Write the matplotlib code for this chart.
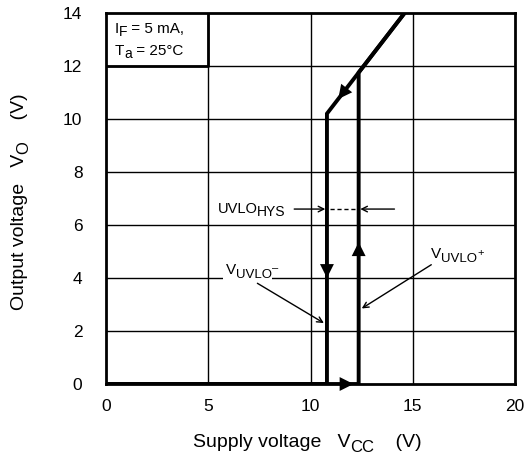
import matplotlib
matplotlib.use("Agg")
import matplotlib.pyplot as plt

plt.rcParams['font.family'] = ['Liberation Sans', 'DejaVu Sans']

# characteristic path (Vcc, Vo)
rise_x = [0, 12.35, 12.35, 14.6]
rise_y = [0, 0, 11.75, 14]
fall_x = [14.6, 10.8, 10.8, 0]
fall_y = [14, 10.2, 0, 0]

v_uvlo_minus = 10.8
v_uvlo_plus = 12.35
hys_level = 6.6

x_ticks = [0, 5, 10, 15, 20]
y_ticks = [0, 2, 4, 6, 8, 10, 12, 14]

fig = plt.figure(figsize=(5.3, 4.61), dpi=100)
ax = fig.add_axes([0.2, 0.167, 0.772, 0.805])


def chain(first, parts, rotated=False, zorder=3):
    # add text pieces after `first`, each (text, size, shift in pt, bbox)
    prev = first
    for s, fs, d, box in parts:
        if rotated:
            prev = ax.annotate(s, xy=(1, 1), xycoords=prev, xytext=(-d, 0),
                               textcoords='offset points', fontsize=fs, rotation=90,
                               ha='right', va='bottom', annotation_clip=False)
        else:
            prev = ax.annotate(s, xy=(1, 0), xycoords=prev, xytext=(0, d),
                               textcoords='offset points', fontsize=fs,
                               ha='left', va='bottom', bbox=box,
                               annotation_clip=False, zorder=zorder)
    return prev


ax.set_xlim(0, 20)
ax.set_ylim(0, 14)
ax.set_xticks(x_ticks)
ax.set_yticks(y_ticks)
ax.tick_params(axis='both', length=0, labelsize=12.5)
ax.tick_params(axis='x', pad=11)
ax.tick_params(axis='y', pad=17)
for s in ax.spines.values():
    s.set_linewidth(2)

for xv in x_ticks[1:-1]:
    ax.axvline(xv, color='black', lw=1.0, zorder=1)
for yv in y_ticks[1:-1]:
    ax.axhline(yv, color='black', lw=1.0, zorder=1)

# condition box (thicker border cell)
ax.plot([0, 5, 5], [12, 12, 14], color='black', lw=2, zorder=2)
t = ax.text(0.42, 13.25, "I", fontsize=11, va='baseline', ha='left')
chain(t, [("F", 10, -2.5, None), (" = 5 mA,", 11, 2.5, None)])
t = ax.text(0.42, 12.42, "T", fontsize=11, va='baseline', ha='left')
chain(t, [("a", 10, -2.5, None), (" = 25°C", 11, 2.5, None)])

ax.plot(rise_x, rise_y, color='black', lw=2.8, zorder=4, solid_joinstyle='miter')
ax.plot(fall_x, fall_y, color='black', lw=2.8, zorder=4, solid_joinstyle='miter')

# direction arrowheads
head = dict(arrowstyle='-|>,head_length=1.0,head_width=0.5', color='black',
            lw=0, shrinkA=0, shrinkB=0, mutation_scale=10)
ax.annotate('', xy=(12.1, 0), xytext=(11.2, 0), arrowprops=head, zorder=5)
ax.annotate('', xy=(v_uvlo_plus, 5.35), xytext=(v_uvlo_plus, 4.6), arrowprops=head, zorder=5)
ax.annotate('', xy=(v_uvlo_minus, 4.0), xytext=(v_uvlo_minus, 4.8), arrowprops=head, zorder=5)
ax.annotate('', xy=(11.35, 10.75), xytext=(12.0, 11.4), arrowprops=head, zorder=5)

# hysteresis annotation
thin = dict(arrowstyle='->', color='black', lw=1.0, shrinkA=0, shrinkB=0)
t = ax.text(5.45, hys_level, "UVLO", fontsize=10.5, va='center', ha='left', zorder=3)
chain(t, [("HYS", 10, -2, None)])
ax.annotate('', xy=(v_uvlo_minus - 0.08, hys_level), xytext=(9.2, hys_level), arrowprops=thin, zorder=5)
ax.annotate('', xy=(v_uvlo_plus + 0.08, hys_level), xytext=(14.1, hys_level), arrowprops=thin, zorder=5)
ax.plot([v_uvlo_minus + 0.15, v_uvlo_plus - 0.15], [hys_level, hys_level],
        color='black', lw=1.0, ls=(0, (3, 2)), zorder=3)

white = dict(facecolor='white', edgecolor='none', pad=2)
white_small = dict(facecolor='white', edgecolor='none', pad=0.5)
t = ax.text(5.85, 4.3, "V", fontsize=11, va='center', ha='left', zorder=3, bbox=white)
chain(t, [("UVLO", 9.5, -2.5, white_small), ("–", 8, 5, None)])
ax.annotate('', xy=(10.65, 2.3), xytext=(7.4, 3.8), arrowprops=thin, zorder=5)

t = ax.text(15.9, 4.9, "V", fontsize=11, va='center', ha='left', zorder=3)
chain(t, [("UVLO", 9.5, -2.5, None), ("+", 8, 5, None)])
ax.annotate('', xy=(12.5, 2.85), xytext=(15.9, 4.5), arrowprops=thin, zorder=5)

# axis titles
t = fig.text(0.364, 0.03, "Supply voltage   V", fontsize=14, ha='left', va='baseline')
chain(t, [("CC", 12, -3, None), ("    (V)", 14, 3, None)])
t = fig.text(0.036, 0.328, "Output voltage   V", fontsize=14, ha='center', va='bottom', rotation=90)
chain(t, [("O", 12, -3, None), ("    (V)", 14, 3, None)], rotated=True)

fig.savefig("out.png", dpi=100)
